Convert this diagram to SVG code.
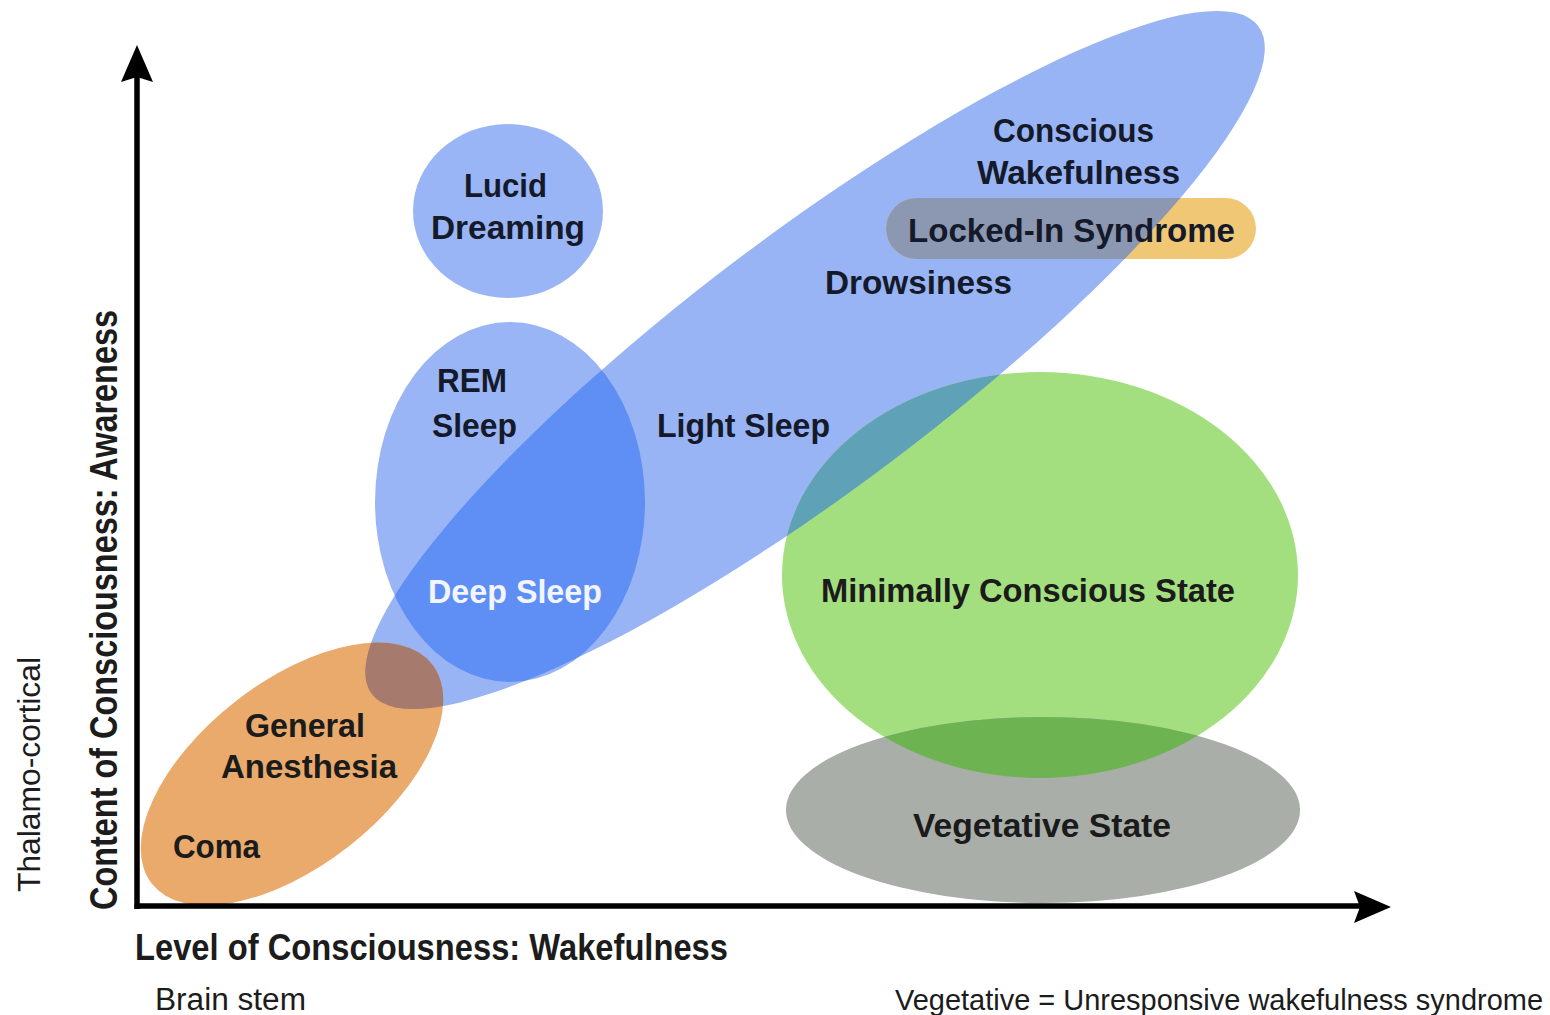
<svg xmlns="http://www.w3.org/2000/svg" xmlns:xlink="http://www.w3.org/1999/xlink" width="1550" height="1015" viewBox="0 0 1550 1015">
  <style>
    .lbl { font-family: "Liberation Sans", Arial, sans-serif; font-weight: bold; font-size: 33px; fill: #151a2b; }
    .lbl-dark { fill: #1b1b1b; }
    .lbl-white { fill: #f2f5ff; }
    .axis-lbl { font-family: "Liberation Sans", Arial, sans-serif; font-weight: bold; fill: #1c1c1c; }
    .note { font-family: "Liberation Sans", Arial, sans-serif; font-weight: normal; fill: #1c1c1c; }
    .axis { stroke: #000; stroke-width: 5.5; fill: none; }
    .head { fill: #000; }
  </style>
  <defs>
    <!-- region outlines reused for overlap clipping -->
    <ellipse id="shape-wake" cx="815" cy="360" rx="555" ry="127" transform="rotate(-37 815 360)"/>
    <ellipse id="shape-rem" cx="510" cy="502" rx="135" ry="180"/>
    <ellipse id="shape-ga" cx="292" cy="774" rx="178" ry="92" transform="rotate(-38 292 774)"/>
    <ellipse id="shape-mcs" cx="1040" cy="575" rx="258" ry="203"/>
    <ellipse id="shape-vs" cx="1043" cy="810" rx="257" ry="93"/>
    <rect id="shape-lis" x="886" y="198" width="370" height="61" rx="30.5" ry="30.5"/>
    <clipPath id="clip-wake"><use xlink:href="#shape-wake"/></clipPath>
    <clipPath id="clip-vs"><use xlink:href="#shape-vs"/></clipPath>
  </defs>

  <rect x="0" y="0" width="1550" height="1015" fill="#ffffff"/>

  <!-- wakefulness continuum: light sleep to conscious wakefulness -->
  <g id="node-wake">
    <use xlink:href="#shape-wake" fill="#98b4f5"/>
    <text class="lbl" x="993" y="142" textLength="161" lengthAdjust="spacingAndGlyphs">Conscious</text>
    <text class="lbl" x="977" y="184" textLength="203" lengthAdjust="spacingAndGlyphs">Wakefulness</text>
    <text class="lbl" x="825" y="294" textLength="187" lengthAdjust="spacingAndGlyphs">Drowsiness</text>
    <text class="lbl" x="657" y="437" textLength="173" lengthAdjust="spacingAndGlyphs">Light Sleep</text>
  </g>

  <!-- REM sleep, with deep sleep where it meets the continuum -->
  <g id="node-rem">
    <use xlink:href="#shape-rem" fill="#9ab5f5"/>
    <text class="lbl" x="437" y="392" textLength="70" lengthAdjust="spacingAndGlyphs">REM</text>
    <text class="lbl" x="432" y="437" textLength="85" lengthAdjust="spacingAndGlyphs">Sleep</text>
  </g>
  <g id="node-deep">
    <use xlink:href="#shape-rem" fill="#5f8ff5" clip-path="url(#clip-wake)"/>
    <text class="lbl lbl-white" x="428" y="603" textLength="174" lengthAdjust="spacingAndGlyphs">Deep Sleep</text>
  </g>

  <g id="node-lucid">
    <ellipse cx="508" cy="211" rx="95" ry="87" fill="#9ab5f5"/>
    <text class="lbl" x="464" y="197" textLength="83" lengthAdjust="spacingAndGlyphs">Lucid</text>
    <text class="lbl" x="431" y="239" textLength="154" lengthAdjust="spacingAndGlyphs">Dreaming</text>
  </g>

  <g id="node-anesthesia">
    <use xlink:href="#shape-ga" fill="#e9aa6c"/>
    <use xlink:href="#shape-ga" fill="#a67a6c" clip-path="url(#clip-wake)"/>
    <text class="lbl lbl-dark" x="245" y="737" textLength="120" lengthAdjust="spacingAndGlyphs">General</text>
    <text class="lbl lbl-dark" x="221" y="778" textLength="176" lengthAdjust="spacingAndGlyphs">Anesthesia</text>
    <text class="lbl lbl-dark" x="173" y="858" textLength="87" lengthAdjust="spacingAndGlyphs">Coma</text>
  </g>

  <g id="node-mcs">
    <use xlink:href="#shape-mcs" fill="#a3df7e"/>
    <use xlink:href="#shape-mcs" fill="#5fa1b7" clip-path="url(#clip-wake)"/>
    <text class="lbl lbl-dark" x="821" y="602" textLength="414" lengthAdjust="spacingAndGlyphs">Minimally Conscious State</text>
  </g>

  <g id="node-vs">
    <use xlink:href="#shape-vs" fill="#a9aea9"/>
    <use xlink:href="#shape-mcs" fill="#6db352" clip-path="url(#clip-vs)"/>
    <text class="lbl lbl-dark" x="913" y="837" textLength="258" lengthAdjust="spacingAndGlyphs">Vegetative State</text>
  </g>

  <g id="node-locked-in">
    <use xlink:href="#shape-lis" fill="#f0c775"/>
    <use xlink:href="#shape-lis" fill="#8c97b1" clip-path="url(#clip-wake)"/>
    <text class="lbl" x="908" y="242" textLength="327" lengthAdjust="spacingAndGlyphs">Locked-In Syndrome</text>
  </g>

  <!-- axes -->
  <g id="connectors">
    <line class="axis" x1="137" y1="909" x2="137" y2="76"/>
    <polygon class="head" points="137,45 153,82 137,77 121,82"/>
    <line class="axis" x1="134.5" y1="906" x2="1362" y2="906"/>
    <polygon class="head" points="1391,907 1354,891 1360,907 1354,923"/>
  </g>

  <g id="axis-labels">
    <text class="axis-lbl" x="135" y="960" font-size="37" textLength="593" lengthAdjust="spacingAndGlyphs">Level of Consciousness: Wakefulness</text>
    <text class="axis-lbl" transform="translate(117 910) rotate(-90)" font-size="38" textLength="600" lengthAdjust="spacingAndGlyphs">Content of Consciousness: Awareness</text>
    <text class="note" transform="translate(40 892) rotate(-90)" font-size="32" textLength="235" lengthAdjust="spacingAndGlyphs">Thalamo-cortical</text>
    <text class="note" x="155" y="1010" font-size="31" textLength="151" lengthAdjust="spacingAndGlyphs">Brain stem</text>
    <text class="note" x="895" y="1010" font-size="29" textLength="648" lengthAdjust="spacingAndGlyphs">Vegetative = Unresponsive wakefulness syndrome</text>
  </g>
</svg>
